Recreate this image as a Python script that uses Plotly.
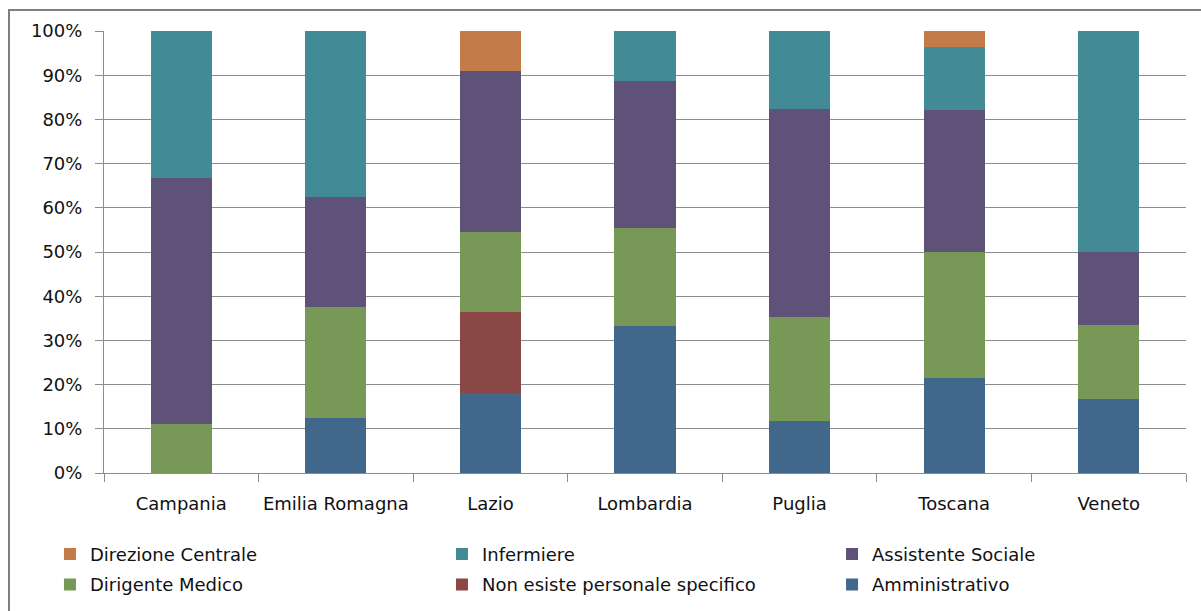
import plotly.graph_objects as go

# Regions on the x axis
regioni = ["Campania", "Emilia Romagna", "Lazio", "Lombardia", "Puglia", "Toscana", "Veneto"]

# Share of each professional role per region (percent, stacks sum to 100)
amministrativo = [0.0, 12.5, 18.2, 33.3, 11.8, 21.4, 16.7]
non_esiste = [0.0, 0.0, 18.2, 0.0, 0.0, 0.0, 0.0]
dirigente_medico = [11.1, 25.0, 18.2, 22.2, 23.5, 28.6, 16.7]
assistente_sociale = [55.6, 25.0, 36.4, 33.3, 47.1, 32.1, 16.7]
infermiere = [33.3, 37.5, 0.0, 11.1, 17.6, 14.3, 50.0]
direzione_centrale = [0.0, 0.0, 9.1, 0.0, 0.0, 3.6, 0.0]

y_ticks = [0, 10, 20, 30, 40, 50, 60, 70, 80, 90, 100]
y_tick_text = [f"{v}%" for v in y_ticks]

FONT = "DejaVu Sans"
TEXT = "#111111"
GRID = "#8c8c8c"

# legend grid: three columns, two rows (container fractions)
LEG_COLS = [0.0416, 0.368, 0.6928]
LEG_ROWS = [0.093, 0.043]

# series drawn bottom-to-top, with (column, row) of their legend entry
series = [
    ("Amministrativo", amministrativo, "#41678B", (2, 1)),
    ("Non esiste personale specifico", non_esiste, "#8B4746", (1, 1)),
    ("Dirigente Medico", dirigente_medico, "#779857", (0, 1)),
    ("Assistente Sociale", assistente_sociale, "#5F5279", (2, 0)),
    ("Infermiere", infermiere, "#438A97", (1, 0)),
    ("Direzione Centrale", direzione_centrale, "#C47B4A", (0, 0)),
]

fig = go.Figure()
legends = {}
for i, (name, vals, color, (col, row)) in enumerate(series):
    key = "legend" if i == 0 else f"legend{i + 1}"
    fig.add_trace(go.Bar(
        x=regioni, y=vals, name=name, legend=key,
        marker=dict(color=color, line=dict(width=0)),
        hovertemplate="%{x}<br>" + name + ": %{y:.1f}%<extra></extra>",
    ))
    legends[key] = dict(
        x=LEG_COLS[col], y=LEG_ROWS[row],
        xanchor="left", yanchor="middle",
        xref="container", yref="container",
        font=dict(family=FONT, size=18, color=TEXT), bgcolor="rgba(0,0,0,0)",
        itemclick=False, itemdoubleclick=False,
    )

fig.update_layout(
    width=1201, height=611,
    margin=dict(l=104, r=15, t=31, b=138, autoexpand=False),
    paper_bgcolor="white", plot_bgcolor="white",
    barmode="stack", bargap=0.605,
    font=dict(family=FONT, size=18, color=TEXT),
    showlegend=True,
    xaxis=dict(
        showline=True, linecolor=GRID, linewidth=1,
        ticks="outside", tickson="boundaries", ticklen=8, tickcolor=GRID,
        ticklabelstandoff=14, tickangle=0,
        showgrid=False,
        tickfont=dict(family=FONT, size=18, color=TEXT),
    ),
    yaxis=dict(
        range=[0, 100], tickvals=y_ticks, ticktext=y_tick_text,
        showline=True, linecolor=GRID, linewidth=1,
        ticks="outside", ticklen=8, tickcolor=GRID,
        ticklabelstandoff=9,
        showgrid=True, gridcolor=GRID, gridwidth=1,
        zeroline=False,
        tickfont=dict(family=FONT, size=18, color=TEXT),
    ),
    shapes=[dict(
        type="rect", xref="paper", yref="paper",
        x0=-0.0878, x1=1.02, y0=-0.33, y1=1.0475,
        line=dict(color="#7f7f7f", width=2), fillcolor="rgba(0,0,0,0)",
        layer="below",
    )],
)
fig.update_layout(**legends)

fig.write_html("out.html")
